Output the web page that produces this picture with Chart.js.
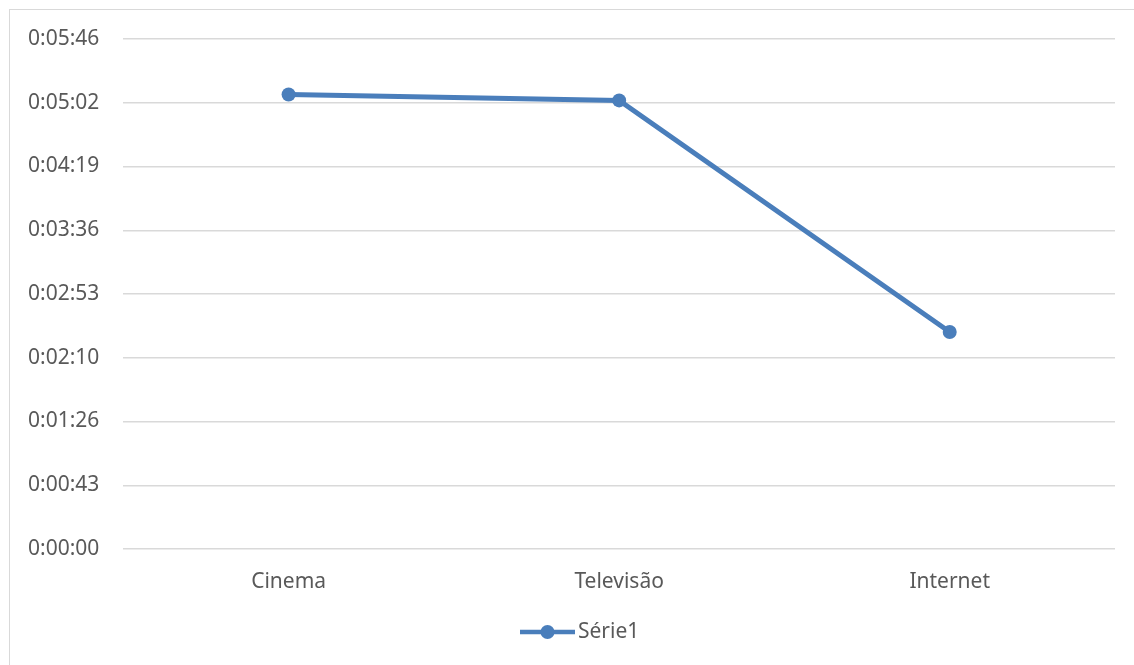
<!DOCTYPE html>
<html lang="pt">
<head>
    <meta charset="UTF-8">
    <title>Série1</title>
    <script src="https://cdn.jsdelivr.net/npm/chart.js"></script>
    <style>
        html, body { margin: 0; padding: 0; background: #fff; }
        #frame {
            position: absolute;
            left: 9px; top: 9px;
            width: 1140px; height: 670px;
            border: 1px solid #d9d9d9;
        }
        #wrap { position: absolute; left: 0; top: 0; width: 1134px; height: 665px; }
    </style>
</head>
<body>
    <div id="frame"></div>
    <div id="wrap"><canvas id="lineChart"></canvas></div>
    <script>
        // categorias e valores (segundos)
        var categorias = ['Cinema', 'Televisão', 'Internet'];
        var serie1 = [308, 304, 147];
        var nomeSerie = 'Série1';
        // marcas do eixo Y: passo de 0,0005 dia = 43,2 s
        var passoY = 43.2;
        var maxY = 345.6;

        function formatoHora(v) {
            var s = Math.round(v);
            var h = Math.floor(s / 3600);
            var m = Math.floor((s % 3600) / 60);
            var ss = s % 60;
            return h + ':' + String(m).padStart(2, '0') + ':' + String(ss).padStart(2, '0');
        }

        var cor = '#4a7ebb';
        var corTexto = '#595959';
        var fonte = { family: 'Noto Sans', size: 21 };

        // legenda estilo Excel: linha + ponto + nome, um pouco à direita do centro
        var legendaExcel = {
            id: 'legendaExcel',
            afterDraw: function (chart) {
                var c = chart.ctx;
                var ds = chart.data.datasets[0];
                var y = 632, x0 = 520, x1 = 575;
                c.save();
                c.strokeStyle = cor;
                c.lineWidth = 4.5;
                c.beginPath();
                c.moveTo(x0, y);
                c.lineTo(x1, y);
                c.stroke();
                c.fillStyle = cor;
                c.beginPath();
                c.arc((x0 + x1) / 2, y, 7, 0, Math.PI * 2);
                c.fill();
                c.fillStyle = corTexto;
                c.font = fonte.size + 'px "' + fonte.family + '"';
                c.textAlign = 'left';
                c.textBaseline = 'middle';
                c.fillText(ds.label, x1 + 3, y);
                c.restore();
            }
        };

        var ctx = document.getElementById('lineChart').getContext('2d');
        new Chart(ctx, {
            type: 'line',
            data: {
                labels: categorias,
                datasets: [{
                    label: nomeSerie,
                    data: serie1,
                    borderColor: cor,
                    backgroundColor: cor,
                    borderWidth: 5,
                    pointRadius: 7,
                    pointBackgroundColor: cor,
                    pointBorderWidth: 0,
                    tension: 0,
                    fill: false
                }]
            },
            options: {
                responsive: true,
                maintainAspectRatio: false,
                animation: false,
                layout: { padding: { left: 4, right: 19, top: 39, bottom: 66 } },
                scales: {
                    x: {
                        offset: true,
                        grid: { display: false },
                        border: { display: false },
                        ticks: { color: corTexto, font: fonte, padding: 12 },
                        afterFit: function (axis) { axis.height = 50; }
                    },
                    y: {
                        min: 0,
                        max: maxY,
                        grid: { color: '#d9d9d9', lineWidth: 1.5, drawTicks: false },
                        border: { display: false },
                        afterBuildTicks: function (axis) {
                            var t = [];
                            for (var i = 0; i <= 8; i++) t.push({ value: i * passoY });
                            axis.ticks = t;
                        },
                        ticks: {
                            color: corTexto,
                            font: fonte,
                            padding: 24,
                            callback: function (v) { return formatoHora(v); }
                        }
                    }
                },
                plugins: {
                    legend: { display: false },
                    tooltip: { enabled: false }
                }
            },
            plugins: [legendaExcel]
        });
    </script>
</body>
</html>
